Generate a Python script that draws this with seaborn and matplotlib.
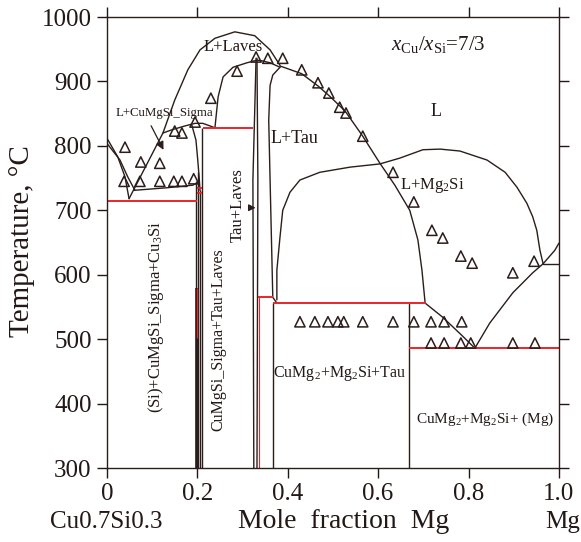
import numpy as np
import pandas as pd
import matplotlib
matplotlib.use('Agg')
import matplotlib.pyplot as plt
import seaborn as sns

sns.set_theme(style='ticks')
plt.rcParams['font.family'] = ['Liberation Serif', 'DejaVu Serif']
plt.rcParams['mathtext.fontset'] = 'custom'
plt.rcParams['mathtext.rm'] = 'Liberation Serif'
plt.rcParams['mathtext.it'] = 'Liberation Serif:italic'

LINE = '#2b1d1a'
RED = '#e8262a'
TXT = '#231815'

# experimental points (x_Mg, T in C)
exp_x = [0.040, 0.075, 0.117, 0.038, 0.073, 0.117, 0.148, 0.166, 0.192,
         0.150, 0.166, 0.195, 0.230, 0.288, 0.330, 0.356, 0.389, 0.431,
         0.467, 0.491, 0.515, 0.529, 0.566, 0.633, 0.679, 0.719, 0.743,
         0.783, 0.808, 0.898, 0.945,
         0.427, 0.460, 0.489, 0.511, 0.524, 0.566, 0.633, 0.679, 0.717,
         0.746, 0.785,
         0.717, 0.746, 0.783, 0.805, 0.898, 0.947]
exp_T = [798, 775, 773, 745, 745, 745, 745, 745, 749,
         823, 820, 837, 874, 916, 938, 936, 936, 918,
         898, 882, 860, 851, 815, 759, 713, 669, 657,
         629, 618, 603, 621,
         527, 527, 527, 527, 527, 527, 527, 527, 527,
         527, 527,
         494, 494, 494, 494, 494, 494]

# calculated phase boundaries
cu3si_a_x = [0.0, 0.024, 0.040, 0.049]
cu3si_a_T = [812, 783, 752, 718]
cu3si_b_x = [0.0, 0.029, 0.046, 0.062]
cu3si_b_T = [804, 778, 752, 731]
liq_laves_x = [0.049, 0.124, 0.150, 0.179, 0.206, 0.239, 0.283, 0.327, 0.361, 0.383]
liq_laves_T = [718, 820, 871, 918, 949, 967, 977, 971, 949, 925]
liq_tau_x = [0.383, 0.431, 0.467, 0.493, 0.527, 0.566, 0.604, 0.637, 0.670, 0.688, 0.697, 0.704,
             0.743, 0.785, 0.814]
liq_tau_T = [924, 912, 893, 877, 854, 815, 773, 739, 700, 654, 607, 556,
             534, 506, 486]
liq_mg_x = [0.814, 0.847, 0.898, 0.942, 0.965, 0.991, 1.0]
liq_mg_T = [486, 525, 572, 603, 617, 638, 649]
mg_step_x = [0.965, 1.0]
mg_step_T = [617, 617]
mg2si_x = [0.376, 0.376, 0.383, 0.389, 0.405, 0.427, 0.471, 0.538, 0.604, 0.648, 0.699,
           0.737, 0.781, 0.841, 0.881, 0.907, 0.929, 0.942, 0.951, 0.958, 0.965]
mg2si_T = [561, 607, 659, 700, 728, 747, 759, 767, 772, 781, 794,
           795, 792, 778, 759, 736, 711, 690, 669, 638, 617]
tau_left_x = [0.383, 0.367, 0.361, 0.358, 0.361, 0.367, 0.376]
tau_left_T = [922, 910, 894, 840, 747, 565, 556]
laves_inner_x = [0.239, 0.246, 0.257, 0.279, 0.310, 0.332, 0.343, 0.361, 0.383]
laves_inner_T = [828, 876, 907, 922, 929, 933, 932, 929, 922]
sigma_liq_x = [0.124, 0.144, 0.173, 0.195, 0.212, 0.228, 0.239]
sigma_liq_T = [820, 825, 831, 835, 835, 831, 828]
sigma_solv_x = [0.188, 0.197, 0.201, 0.204, 0.206]
sigma_solv_T = [832, 809, 778, 752, 731]
sigma_bot_x = [0.060, 0.133, 0.190, 0.204]
sigma_bot_T = [731, 735, 739, 744]
laves_l_x = [0.330, 0.323, 0.325]
laves_l_T = [936, 747, 300]
laves_r_x = [0.332, 0.334, 0.332]
laves_r_T = [936, 747, 300]

# vertical compound lines
comp_x = [0.197, 0.201, 0.206, 0.210, 0.367, 0.668]
comp_top = [745, 760, 731, 828, 556, 556]

# invariant reactions (red)
inv_T = [714, 828, 565, 556, 486, 735, 727]
inv_x0 = [0.0, 0.212, 0.334, 0.367, 0.668, 0.199, 0.199]
inv_x1 = [0.199, 0.323, 0.367, 0.706, 1.0, 0.210, 0.210]

fig, ax = plt.subplots(figsize=(5.81, 5.42), dpi=100)
fig.subplots_adjust(left=0.184, right=0.962, bottom=0.1365, top=0.9686)

curves = [(cu3si_a_x, cu3si_a_T), (cu3si_b_x, cu3si_b_T), (liq_laves_x, liq_laves_T),
          (liq_tau_x, liq_tau_T), (liq_mg_x, liq_mg_T), (mg_step_x, mg_step_T),
          (mg2si_x, mg2si_T), (tau_left_x, tau_left_T), (laves_inner_x, laves_inner_T),
          (sigma_liq_x, sigma_liq_T), (sigma_solv_x, sigma_solv_T), (sigma_bot_x, sigma_bot_T),
          (laves_l_x, laves_l_T), (laves_r_x, laves_r_T)]
for cx, cT in curves:
    sns.lineplot(x=cx, y=cT, sort=False, estimator=None, color=LINE, lw=1.0, ax=ax)

ax.vlines(comp_x, 300, comp_top, color=LINE, lw=1.0)
ax.vlines([0.199], 300, 579, color=LINE, lw=2.6)
ax.vlines([0.200], 502, 579, color=RED, lw=0.9)
ax.vlines([0.336], 300, 565, color=RED, lw=0.8)
ax.hlines(inv_T, inv_x0, inv_x1, color=RED, lw=1.4)

sns.scatterplot(x=exp_x, y=exp_T, marker='^', s=55, facecolor='none',
                edgecolor=LINE, linewidth=1.1, ax=ax, zorder=5)

# arrows
ax.annotate('', xy=(0.128, 790), xytext=(0.095, 835),
            arrowprops=dict(arrowstyle='-|>', color=LINE, lw=0.9, mutation_scale=12))
ax.annotate('', xy=(0.335, 704), xytext=(0.308, 704),
            arrowprops=dict(arrowstyle='-|>', color=LINE, lw=0.9, mutation_scale=10))

# region labels
kw = dict(ha='center', va='center', color=TXT)
ax.text(0.279, 953, 'L+Laves', fontsize=12, **kw)
ax.text(0.128, 851, 'L+CuMgSi_Sigma', fontsize=9.3, **kw)
ax.text(0.416, 812, 'L+Tau', fontsize=13, **kw)
ax.text(0.728, 853, 'L', fontsize=13, **kw)
ax.text(0.732, 957, r'$\mathit{x}_\mathrm{Cu}/\mathit{x}_\mathrm{Si}$=7/3', fontsize=15, **kw)
ax.text(0.719, 738, r'L+Mg$_\mathrm{2}$Si', fontsize=12, **kw)
ax.text(0.108, 534, r'(Si)+CuMgSi_Sigma+Cu$_\mathrm{3}$Si', fontsize=12, rotation=90, **kw)
ax.text(0.246, 499, 'CuMgSi_Sigma+Tau+Laves', fontsize=11.5, rotation=90, **kw)
ax.text(0.290, 708, 'Tau+Laves', fontsize=12, rotation=90, **kw)
ax.text(0.516, 447, r'CuMg$_\mathrm{2}$+Mg$_\mathrm{2}$Si+Tau', fontsize=11.5, **kw)
ax.text(0.836, 375, r'CuMg$_\mathrm{2}$+Mg$_\mathrm{2}$Si+ (Mg)', fontsize=11, **kw)

ax.set_xlim(0, 1)
ax.set_ylim(300, 1000)
ax.set_xticks([0, 0.2, 0.4, 0.6, 0.8, 1.0])
ax.set_xticklabels(['0', '0.2', '0.4', '0.6', '0.8', '1.0'])
ax.set_yticks(range(300, 1001, 100))
ax.tick_params(direction='out', length=7, width=1, top=True, right=True,
               labeltop=False, labelright=False, labelsize=18, colors=TXT, pad=4)
for sp in ax.spines.values():
    sp.set_visible(True)
    sp.set_color(LINE)
    sp.set_linewidth(1.0)
ax.set_xlabel('')
ax.set_ylabel('')

fig.text(0.038, 0.555, 'Temperature, °C', rotation=90, ha='center', va='center',
         fontsize=21, color=TXT)
fig.text(0.592, 0.037, 'Mole  fraction  Mg', ha='center', va='center', fontsize=20, color=TXT)
fig.text(0.183, 0.037, 'Cu0.7Si0.3', ha='center', va='center', fontsize=18, color=TXT)
fig.text(0.969, 0.037, 'Mg', ha='center', va='center', fontsize=18, color=TXT)

fig.savefig('out.png', dpi=100)
